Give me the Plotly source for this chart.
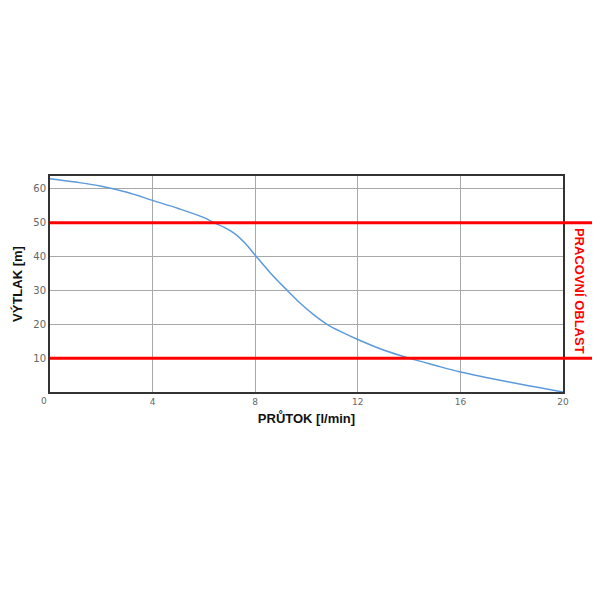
import plotly.graph_objects as go

flow = [0, 1, 2, 3, 4, 5, 6, 6.4, 6.8, 7.2, 7.6, 8, 8.6, 9.25, 9.8, 10.3, 10.8, 11.4, 12, 13, 14, 15, 16, 17, 18, 19, 20]
head = [63, 62, 60.8, 59, 56.6, 54.2, 51.5, 50, 48.6, 46.8, 44.0, 40.4, 35.1, 30, 25.9, 22.7, 20, 17.6, 15.5, 12.4, 10, 7.9, 5.9, 4.3, 2.8, 1.4, 0]

x_ticks = [4, 8, 12, 16, 20]
y_ticks = [10, 20, 30, 40, 50, 60]
limits = [50, 10]
zone_label = "PRACOVNÍ OBLAST"

fig = go.Figure()
fig.add_trace(go.Scatter(x=flow, y=head, mode="lines", line=dict(color="#5b9bdc", width=1.5, shape="spline"),
                         showlegend=False, hoverinfo="skip"))

for lv in limits:
    fig.add_shape(type="line", xref="paper", yref="y", x0=0, x1=1.07, y0=lv, y1=lv,
                  line=dict(color="#ff0000", width=3), layer="above")

fig.add_annotation(x=1, xref="paper", xanchor="left", xshift=7, y=30, yref="y", text="<b>" + zone_label + "</b>",
                   textangle=90, showarrow=False, font=dict(color="#ff0000", size=13, family="Liberation Sans, Arial"))
fig.add_annotation(x=0, xref="paper", xshift=-11, y=0, yref="y", yshift=-9, text="0", showarrow=False,
                   font=dict(color="#666", size=9, family="DejaVu Sans"))

fig.update_layout(
    width=600, height=600,
    margin=dict(l=42, r=45, t=168, b=216),
    plot_bgcolor="white", paper_bgcolor="white",
    xaxis=dict(range=[0, 20], tickvals=x_ticks, showgrid=True, gridcolor="#a8a8a8", gridwidth=1,
               showline=True, linecolor="#333", linewidth=2, mirror=True, ticks="", automargin=False,
               tickfont=dict(size=9, color="#666", family="DejaVu Sans"), zeroline=False,
               title=dict(text="<b>PRŮTOK [l/min]</b>", font=dict(size=13, color="#111", family="Liberation Sans, Arial"), standoff=8)),
    yaxis=dict(range=[0, 63.8], tickvals=y_ticks, showgrid=True, gridcolor="#a8a8a8", gridwidth=1,
               showline=True, linecolor="#333", linewidth=2, mirror=True, ticks="", automargin=False,
               tickfont=dict(size=10, color="#666", family="DejaVu Sans"), zeroline=False,
               title=dict(text="<b>VÝTLAK [m]</b>", font=dict(size=13, color="#111", family="Liberation Sans, Arial"), standoff=8)),
)

fig.write_html("out.html")
